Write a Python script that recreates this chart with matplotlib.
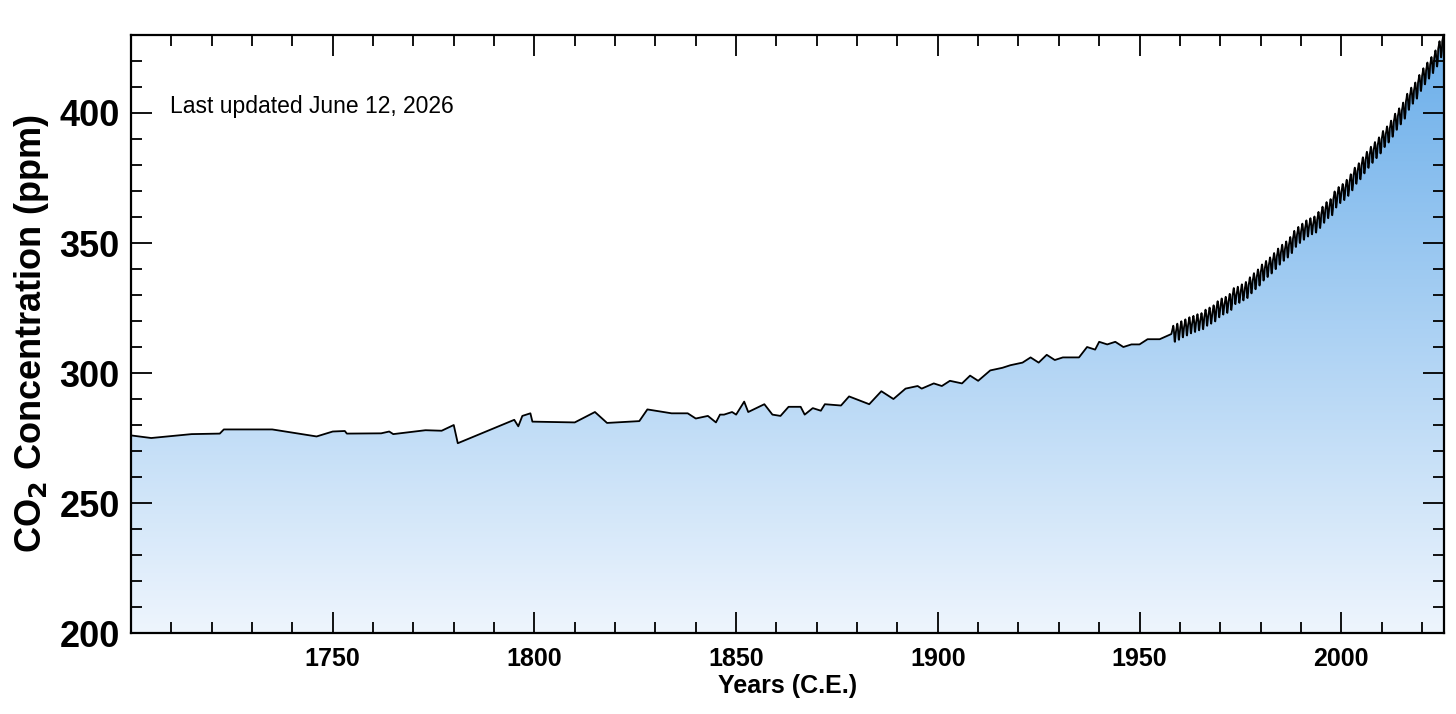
import numpy as np
import matplotlib
matplotlib.use("Agg")
import matplotlib.pyplot as plt
from matplotlib.colors import LinearSegmentedColormap
from matplotlib.ticker import MultipleLocator

plt.rcParams['font.family'] = ['Liberation Sans', 'DejaVu Sans']

# ice-core / firn record (year, ppm)
ICE_YEARS = [1700, 1705, 1715, 1722, 1723, 1735, 1746, 1750, 1753, 1753.5, 1762, 1764,
             1765, 1773, 1777, 1780, 1781, 1795, 1796, 1797, 1799, 1799.5, 1810, 1815,
             1818, 1826, 1828, 1834, 1838, 1840, 1843, 1845, 1846, 1847, 1849, 1850,
             1852, 1853, 1857, 1859, 1861, 1863, 1866, 1867, 1869, 1871, 1872, 1876,
             1878, 1883, 1886, 1889, 1892, 1895, 1896, 1899, 1901, 1903, 1906, 1908,
             1910, 1913, 1916, 1918, 1921, 1923, 1925, 1927, 1929, 1931, 1935, 1936,
             1937, 1939, 1940, 1942, 1944, 1946, 1948, 1950, 1952, 1955, 1957.9]
ICE_PPM = [276.0, 275.0, 276.5, 276.7, 278.3, 278.3, 275.6, 277.5, 277.7, 276.7, 276.8, 277.5,
           276.5, 278.0, 277.8, 280.0, 273.0, 282.0, 279.5, 283.5, 284.5, 281.3, 281.0, 285.0,
           280.8, 281.5, 286.0, 284.5, 284.5, 282.5, 283.5, 281.0, 284.0, 284.0, 285.0, 284.0,
           289.0, 285.0, 288.0, 284.0, 283.5, 287.0, 287.0, 284.0, 286.5, 285.5, 288.0, 287.5,
           291.0, 288.0, 293.0, 290.0, 294.0, 295.0, 294.0, 296.0, 295.0, 297.0, 296.0, 299.0,
           297.0, 301.0, 302.0, 303.0, 304.0, 306.0, 304.0, 307.0, 305.0, 306.0, 306.0, 308.0,
           310.0, 309.0, 312.0, 311.0, 312.0, 310.0, 311.0, 311.0, 313.0, 313.0, 315.0]

# Mauna Loa annual means, 1958-2026
ML_YEARS = list(range(1958, 2027))
ML_ANNUAL = [315.2, 315.98, 316.91, 317.64, 318.45, 318.99, 319.62, 320.04, 321.37, 322.18,
             323.05, 324.62, 325.68, 326.32, 327.46, 329.68, 330.19, 331.12, 332.03, 333.84,
             335.41, 336.84, 338.76, 340.12, 341.48, 343.15, 344.87, 346.35, 347.61, 349.31,
             351.69, 353.20, 354.45, 355.70, 356.54, 357.21, 358.96, 360.97, 362.74, 363.88,
             366.84, 368.54, 369.71, 371.32, 373.45, 375.98, 377.70, 379.98, 382.09, 384.02,
             385.83, 387.64, 390.10, 391.85, 394.06, 396.74, 398.81, 401.01, 404.41, 406.76,
             408.72, 411.65, 414.21, 416.41, 418.53, 421.08, 424.61, 427.50, 430.0]
# monthly departure from the annual mean (Jan..Dec)
SEASONAL = [0.0, 0.7, 1.4, 2.5, 3.0, 2.3, 0.8, -1.3, -3.1, -3.2, -1.9, -0.7]
LAST_MONTH_2026 = 5   # data through May 2026

mx, my = [], []
for yr, ann in zip(ML_YEARS, ML_ANNUAL):
    for m, s in enumerate(SEASONAL):
        if yr == 1958 and m < 3:
            continue
        if yr == 2026 and m >= LAST_MONTH_2026:
            break
        mx.append(yr + (m + 0.5) / 12)
        my.append(ann + s)

x = np.array(ICE_YEARS + mx)
y = np.array(ICE_PPM + my)

fig = plt.figure(figsize=(14.56, 7.14), dpi=100)
ax = fig.add_axes([0.09, 0.1134, 0.9018, 0.8376])
x0, x1, y0, y1 = 1700, 2025.5, 200, 430

cmap = LinearSegmentedColormap.from_list("co2", ["#eef5fd", "#6aaeea"])
grad = np.linspace(0, 1, 256).reshape(-1, 1)
im = ax.imshow(grad, cmap=cmap, origin="lower", aspect="auto",
               extent=[x0, x1, y0, y1], zorder=1)
poly = ax.fill_between(x, y0, y, color="none", lw=0)
im.set_clip_path(poly.get_paths()[0], transform=ax.transData)
ax.plot(x, y, color="black", lw=1.3, zorder=3)

ax.set_xlim(x0, x1)
ax.set_ylim(y0, y1)
ax.set_xticks([1750, 1800, 1850, 1900, 1950, 2000])
ax.set_yticks([200, 250, 300, 350, 400])
ax.xaxis.set_minor_locator(MultipleLocator(10))
ax.yaxis.set_minor_locator(MultipleLocator(10))
ax.tick_params(which="both", direction="in", top=True, right=True, width=1.3)
ax.tick_params(which="major", length=15)
ax.tick_params(which="minor", length=8)
ax.tick_params(axis="x", labelsize=18, pad=10)
ax.tick_params(axis="y", labelsize=26, pad=8)
for lbl in ax.get_xticklabels() + ax.get_yticklabels():
    lbl.set_fontweight("bold")
for sp in ax.spines.values():
    sp.set_linewidth(1.6)

ax.set_xlabel("Years (C.E.)", fontsize=18, fontweight="bold", labelpad=2)
ax.set_ylabel("CO$_\\mathbf{2}$ Concentration (ppm)", fontsize=26, fontweight="bold",
              labelpad=6)
ax.text(0.03, 0.88, "Last updated June 12, 2026", transform=ax.transAxes,
        fontsize=16.5, va="center", ha="left")

fig.savefig("out.png", dpi=100)
